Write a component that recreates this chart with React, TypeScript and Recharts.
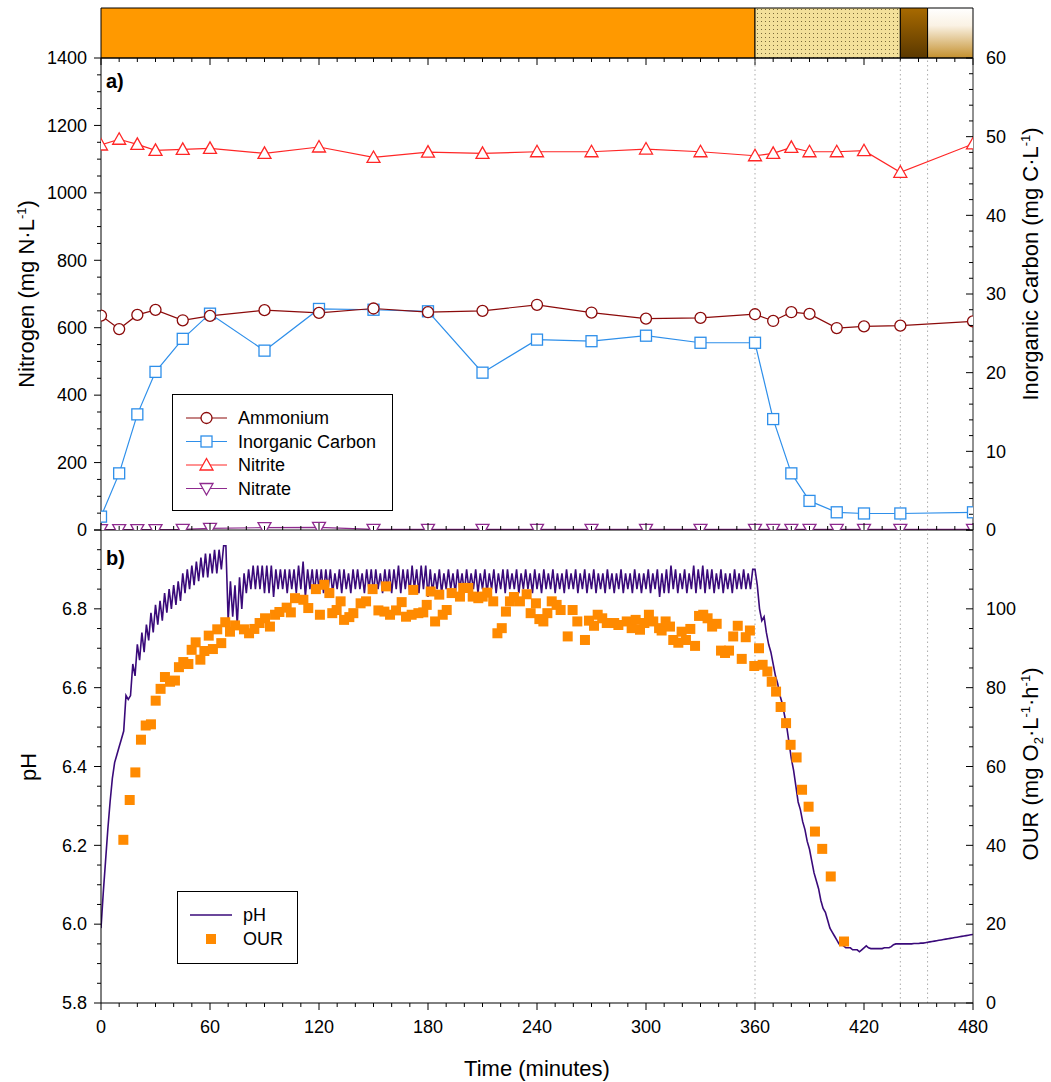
import { Bar, BarChart, ComposedChart, Line, ReferenceLine, Scatter, XAxis, YAxis } from "recharts";

const W = 1051;
const H = 1082;
const FONT = "'Liberation Sans', Arial, Helvetica, sans-serif";

const PLOT_LEFT = 101;
const PLOT_RIGHT = 973;
const STRIP_TOP = 8;
const A_TOP = 58;
const B_TOP = 530;
const B_BOTTOM = 1003;
const AXIS_W = 60;

// operating phases shown in the strip above panel a (minutes each)
const phaseNames = ["aerobic", "transition", "anoxic", "settling"];
const phaseLengths = [360, 80, 15, 25];
const phaseFills = ["#FF9900", "url(#dots)", "url(#darkBrown)", "url(#fadeTan)"];
const phaseMarks = [360, 440, 455];

// panel a: grab samples
const sampleTimes = [0, 10, 20, 30, 45, 60, 90, 120, 150, 180, 210, 240, 270, 300, 330, 360, 370, 380, 390, 405, 420, 440, 480];
const ammonium = [636, 596, 638, 653, 622, 635, 652, 644, 657, 646, 650, 668, 645, 627, 629, 640, 620, 646, 641, 599, 604, 606, 619];
const inorganicCarbon = [1.7, 7.2, 14.7, 20.1, 24.3, 27.5, 22.8, 28.1, 28.0, 27.8, 20.0, 24.2, 24.0, 24.7, 23.8, 23.8, 14.1, 7.2, 3.7, 2.25, 2.1, 2.1, 2.25];
const nitrite = [1142, 1159, 1144, 1126, 1129, 1132, 1117, 1136, 1105, 1121, 1117, 1122, 1122, 1130, 1122, 1110, 1117, 1135, 1122, 1122, 1125, 1061, 1145];
const nitrate = [1, 1, 1, 1, 2, 5, 7, 8, 2, 2, 2, 2, 2, 2, 2, 2, 2, 2, 2, 2, 2, 2, 2];

// panel b: online pH, logged every 1.25 min (one row = 30 min)
const PH_STEP = 1.25;
const phReadings = [
  5.99, 6.08, 6.16, 6.24, 6.31, 6.37, 6.41, 6.43, 6.45, 6.47, 6.49, 6.58, 6.57, 6.58, 6.66, 6.63, 6.71, 6.67, 6.74, 6.69, 6.76, 6.72, 6.79, 6.74,
  6.81, 6.76, 6.82, 6.77, 6.84, 6.79, 6.85, 6.8, 6.86, 6.81, 6.87, 6.82, 6.89, 6.84, 6.9, 6.85, 6.91, 6.86, 6.92, 6.87, 6.93, 6.88, 6.94, 6.88,
  6.94, 6.89, 6.95, 6.89, 6.95, 6.9, 6.96, 6.96, 6.77, 6.87, 6.78, 6.86, 6.76, 6.88, 6.8, 6.89, 6.84, 6.9, 6.85, 6.91, 6.85, 6.91, 6.85, 6.91,
  6.84, 6.91, 6.84, 6.91, 6.83, 6.9, 6.85, 6.9, 6.85, 6.9, 6.84, 6.9, 6.85, 6.9, 6.84, 6.91, 6.85, 6.92, 6.83, 6.9, 6.85, 6.9, 6.84, 6.9,
  6.85, 6.9, 6.84, 6.9, 6.85, 6.9, 6.84, 6.89, 6.85, 6.9, 6.84, 6.9, 6.85, 6.89, 6.84, 6.9, 6.85, 6.9, 6.85, 6.89, 6.84, 6.9, 6.85, 6.9,
  6.84, 6.9, 6.85, 6.89, 6.84, 6.9, 6.85, 6.9, 6.84, 6.9, 6.85, 6.91, 6.84, 6.9, 6.85, 6.9, 6.84, 6.91, 6.85, 6.9, 6.84, 6.91, 6.85, 6.91,
  6.83, 6.9, 6.84, 6.89, 6.85, 6.9, 6.84, 6.89, 6.85, 6.9, 6.85, 6.89, 6.84, 6.9, 6.85, 6.89, 6.84, 6.9, 6.85, 6.89, 6.85, 6.9, 6.84, 6.89,
  6.85, 6.9, 6.84, 6.89, 6.85, 6.9, 6.84, 6.89, 6.85, 6.9, 6.84, 6.9, 6.85, 6.89, 6.85, 6.9, 6.84, 6.89, 6.85, 6.9, 6.85, 6.89, 6.84, 6.9,
  6.85, 6.89, 6.84, 6.9, 6.85, 6.89, 6.85, 6.9, 6.84, 6.89, 6.85, 6.89, 6.84, 6.9, 6.85, 6.89, 6.85, 6.9, 6.84, 6.89, 6.85, 6.9, 6.84, 6.89,
  6.85, 6.9, 6.84, 6.89, 6.85, 6.89, 6.84, 6.9, 6.85, 6.89, 6.84, 6.89, 6.85, 6.9, 6.84, 6.89, 6.85, 6.89, 6.84, 6.9, 6.85, 6.89, 6.84, 6.89,
  6.85, 6.9, 6.84, 6.89, 6.85, 6.9, 6.83, 6.89, 6.84, 6.9, 6.84, 6.91, 6.85, 6.9, 6.84, 6.89, 6.85, 6.9, 6.84, 6.89, 6.85, 6.91, 6.84, 6.9,
  6.85, 6.91, 6.84, 6.9, 6.85, 6.9, 6.84, 6.89, 6.85, 6.9, 6.84, 6.89, 6.85, 6.89, 6.84, 6.9, 6.85, 6.89, 6.85, 6.9, 6.85, 6.89, 6.85, 6.9,
  6.9, 6.86, 6.8, 6.77, 6.78, 6.74, 6.71, 6.69, 6.66, 6.63, 6.61, 6.58, 6.56, 6.53, 6.5, 6.46, 6.42, 6.39, 6.35, 6.31, 6.29, 6.26, 6.24, 6.21,
  6.19, 6.16, 6.13, 6.11, 6.09, 6.06, 6.04, 6.03, 6.01, 5.99, 5.98, 5.97, 5.96, 5.95, 5.95, 5.945, 5.94, 5.94, 5.94, 5.935, 5.935, 5.935, 5.93, 5.935,
  5.94, 5.945, 5.94, 5.938, 5.938, 5.938, 5.938, 5.938, 5.938, 5.94, 5.94, 5.94, 5.943, 5.948, 5.95, 5.95, 5.95, 5.95, 5.95, 5.95, 5.95, 5.95, 5.951, 5.951,
  5.951, 5.952, 5.952, 5.953, 5.954, 5.955, 5.956, 5.957, 5.958, 5.959, 5.96, 5.961, 5.962, 5.963, 5.964, 5.965, 5.966, 5.967, 5.968, 5.969, 5.97, 5.971, 5.972, 5.973,
  5.974,
];

// panel b: oxygen uptake rate
const ourTimes = [
  12.3, 15.8, 18.9, 22, 24.6, 27.5, 30.1, 32.8, 35.2, 38, 40.7, 42.9, 45.3, 48.1, 49.9, 52.1, 54.7, 56.9, 59.3, 61.6,
  64, 66.2, 68.4, 71, 73.8, 78.7, 81.5, 84.4, 87.3, 90.3, 93, 95.8, 98.2, 102.2, 104.5, 106.8, 111.4, 114.1, 118.3, 120.5,
  122.9, 125.7, 127.3, 129.7, 131.9, 133.8, 136.7, 138.9, 142.9, 145.9, 149.5, 152.7, 156, 156.9, 159.1, 162.4, 165.5, 167.9, 171, 171.9,
  174.7, 177.4, 179.3, 181.5, 183.9, 186.2, 188.1, 190.3, 193, 197.6, 199.4, 202.2, 204.6, 207.7, 210.1, 212.6, 215.9, 218.2, 220.6, 222.9,
  225.1, 227.3, 230.6, 234.3, 236.5, 239.4, 241.3, 243.5, 245.7, 248.1, 250.8, 253, 256.9, 259.6, 262.2, 266.4, 268.6, 271.4, 273.4, 275.9,
  278.4, 282.5, 284.8, 289.4, 292.1, 294.3, 296.7, 299.1, 301.6, 304, 307.2, 308.6, 310.8, 313.2, 315, 317.8, 319.6, 322, 324.4, 327,
  329.2, 331.5, 333.9, 336.4, 338.9, 341.3, 343.5, 345.7, 348, 350.5, 352.7, 354.9, 357.2, 359.6, 362.2, 364.2, 366.8, 369.2, 371.6, 374.1,
  377.1, 379.6, 382.9, 385.9, 389.5, 393, 397, 401.7, 409,
];
const ourValues = [
  41.4, 51.5, 58.5, 66.8, 70.4, 70.7, 76.7, 79.7, 82.7, 81.5, 81.8, 85.2, 86.5, 86.0, 89.6, 91.5, 87.1, 89.3, 93.2, 89.8,
  94.8, 91.3, 96.6, 94.2, 95.8, 94.8, 93.8, 94.9, 96.4, 97.6, 95.5, 98.5, 99.2, 100.3, 99.1, 102.7, 102.3, 100.2, 105.0, 98.5,
  106.1, 104.0, 98.9, 99.7, 101.9, 97.2, 97.9, 98.9, 101.4, 101.9, 105.0, 99.6, 99.3, 105.7, 98.5, 99.6, 101.7, 98.0, 98.5, 104.8,
  98.9, 99.1, 101.0, 104.4, 96.8, 103.6, 98.5, 99.7, 104.0, 103.1, 105.3, 105.3, 103.1, 102.7, 103.1, 104.1, 101.9, 93.8, 95.1, 99.3,
  101.9, 103.0, 101.9, 103.7, 98.9, 101.4, 97.4, 96.8, 98.9, 101.9, 101.0, 99.7, 93.0, 99.7, 96.8, 92.1, 97.0, 95.7, 98.5, 97.6,
  96.4, 96.4, 95.9, 96.8, 95.1, 97.2, 94.7, 96.4, 98.5, 96.8, 95.1, 94.5, 96.8, 95.5, 92.1, 91.4, 94.2, 92.1, 94.9, 90.6,
  98.2, 98.5, 97.6, 95.5, 96.2, 89.4, 88.8, 89.4, 93.0, 95.7, 87.3, 92.8, 94.5, 85.5, 90.0, 85.8, 84.1, 81.5, 79.0, 75.1,
  71.0, 65.5, 62.3, 54.1, 49.8, 43.5, 39.1, 32.1, 15.6,
];

const COLORS = {
  ammonium: "#8B0A0A",
  carbon: "#2E8FEA",
  nitrite: "#FF2626",
  nitrate: "#8E2A8E",
  ph: "#3A0A7A",
  our: "#FF8A00",
};

const range = (from: number, to: number, step: number) => {
  const out: number[] = [];
  const n = Math.round((to - from) / step);
  for (let i = 0; i <= n; i++) out.push(Math.round((from + i * step) * 1000) / 1000);
  return out;
};

const timeTicks = range(0, 480, 10);
const nitrogenTicks = range(0, 1400, 50);
const carbonTicks = range(0, 60, 2);
const phTicks = range(5.8, 7.0, 0.05);
const ourTicks = range(0, 120, 5);

const phaseRow = [
  Object.fromEntries([["name", "phases"], ...phaseNames.map((n, i) => [n, phaseLengths[i]])]),
];
const panelARows = sampleTimes.map((t, i) => ({
  t,
  ammonium: ammonium[i],
  carbon: inorganicCarbon[i],
  nitrite: nitrite[i],
  nitrate: nitrate[i],
}));
const phRows = phReadings.map((ph, i) => ({ t: i * PH_STEP, ph }));
const ourRows = ourTimes.map((t, i) => ({ t, our: ourValues[i] }));

type TickCfg = {
  side: "left" | "right" | "bottom";
  dir: 1 | -1;
  major: number;
  labels?: boolean;
  digits?: number;
  skip?: number[];
};

function AxisTick(props: any) {
  const { x, y, payload, cfg } = props as { x: number; y: number; payload: { value: number }; cfg: TickCfg };
  const v = Number(payload.value);
  const r = v / cfg.major;
  const isMajor = Math.abs(r - Math.round(r)) < 1e-6;
  const len = isMajor ? 7 : 4;
  const show = cfg.labels && isMajor && !(cfg.skip || []).some((s) => Math.abs(s - v) < 1e-6);
  const label = cfg.digits ? v.toFixed(cfg.digits) : String(Math.round(v));
  if (cfg.side === "bottom") {
    return (
      <g>
        <line x1={x} x2={x} y1={y} y2={y + cfg.dir * len} stroke="#000" strokeWidth={1} />
        {show && (
          <text x={x} y={y + 30} textAnchor="middle" fontSize={18} fontFamily={FONT} fill="#000">
            {label}
          </text>
        )}
      </g>
    );
  }
  const left = cfg.side === "left";
  return (
    <g>
      <line x1={x} x2={x + cfg.dir * len} y1={y} y2={y} stroke="#000" strokeWidth={1} />
      {show && (
        <text
          x={left ? x - 14 : x + 13}
          y={y}
          dy="0.35em"
          textAnchor={left ? "end" : "start"}
          fontSize={18}
          fontFamily={FONT}
          fill="#000"
        >
          {label}
        </text>
      )}
    </g>
  );
}

const tickFor = (cfg: TickCfg) => (props: any) => <AxisTick {...props} cfg={cfg} />;

const circleDot = (color: string) => (p: any) => (
  <circle key={`c${p.index}`} cx={p.cx} cy={p.cy} r={5.5} fill="#fff" stroke={color} strokeWidth={1.3} />
);
const squareDot = (color: string) => (p: any) => (
  <rect key={`s${p.index}`} x={p.cx - 5.5} y={p.cy - 5.5} width={11} height={11} fill="#fff" stroke={color} strokeWidth={1.3} />
);
const triUpDot = (color: string) => (p: any) => (
  <path
    key={`u${p.index}`}
    d={`M${p.cx},${p.cy - 6.5} L${p.cx + 6.5},${p.cy + 5} L${p.cx - 6.5},${p.cy + 5} Z`}
    fill="#fff"
    stroke={color}
    strokeWidth={1.3}
  />
);
const triDownDot = (color: string) => (p: any) => (
  <path
    key={`d${p.index}`}
    d={`M${p.cx},${p.cy + 6.5} L${p.cx + 6.5},${p.cy - 5} L${p.cx - 6.5},${p.cy - 5} Z`}
    fill="#fff"
    stroke={color}
    strokeWidth={1.3}
  />
);

const layer: React.CSSProperties = { position: "absolute", left: 0, top: 0 };

const legendA = [
  { name: "Ammonium", color: COLORS.ammonium, dot: circleDot },
  { name: "Inorganic Carbon", color: COLORS.carbon, dot: squareDot },
  { name: "Nitrite", color: COLORS.nitrite, dot: triUpDot },
  { name: "Nitrate", color: COLORS.nitrate, dot: triDownDot },
];

export default function App() {
  return (
    <div style={{ position: "absolute", left: 0, top: 0, width: W, height: H, background: "#fff", fontFamily: FONT }}>
      <svg width={0} height={0} style={{ position: "absolute" }}>
        <defs>
          <pattern id="dots" width={4} height={4} patternUnits="userSpaceOnUse">
            <rect width={4} height={4} fill="#F3E09A" />
            <rect x={1} y={1} width={1} height={1} fill="#7a6a3a" />
          </pattern>
          <linearGradient id="darkBrown" x1="0" y1="0" x2="0" y2="1">
            <stop offset="0%" stopColor="#A86A00" />
            <stop offset="100%" stopColor="#5A3800" />
          </linearGradient>
          <linearGradient id="fadeTan" x1="0" y1="0" x2="0" y2="1">
            <stop offset="0%" stopColor="#FFFFFF" />
            <stop offset="35%" stopColor="#FAF2E4" />
            <stop offset="100%" stopColor="#C4902E" />
          </linearGradient>
        </defs>
      </svg>

      {/* phase strip */}
      <div style={layer}>
        <BarChart
          width={W}
          height={H}
          layout="vertical"
          data={phaseRow}
          barCategoryGap={0}
          margin={{ top: STRIP_TOP, bottom: H - A_TOP - 1, left: PLOT_LEFT, right: W - PLOT_RIGHT }}
        >
          <XAxis
            type="number"
            domain={[0, 480]}
            ticks={timeTicks}
            interval={0}
            height={1}
            tickSize={0}
            tickMargin={0}
            tickLine={false}
            axisLine={{ stroke: "#000" }}
            tick={tickFor({ side: "bottom", dir: 1, major: 60 })}
          />
          <YAxis type="category" dataKey="name" hide />
          {phaseNames.map((n, i) => (
            <Bar key={n} dataKey={n} stackId="phase" fill={phaseFills[i]} stroke="#000" strokeWidth={1} isAnimationActive={false} />
          ))}
        </BarChart>
      </div>

      {/* panel a */}
      <div style={layer}>
        <ComposedChart
          width={W}
          height={H}
          data={panelARows}
          margin={{ top: A_TOP, bottom: H - B_TOP - 1, left: PLOT_LEFT - AXIS_W, right: W - PLOT_RIGHT - AXIS_W }}
        >
          <XAxis
            type="number"
            dataKey="t"
            domain={[0, 480]}
            allowDataOverflow
            ticks={timeTicks}
            interval={0}
            height={1}
            tickSize={0}
            tickMargin={0}
            tickLine={false}
            axisLine={{ stroke: "#000" }}
            tick={tickFor({ side: "bottom", dir: -1, major: 60 })}
          />
          <YAxis
            yAxisId="n"
            width={AXIS_W}
            domain={[0, 1400]}
            allowDataOverflow
            ticks={nitrogenTicks}
            interval={0}
            tickSize={0}
            tickMargin={0}
            tickLine={false}
            axisLine={{ stroke: "#000" }}
            tick={tickFor({ side: "left", dir: -1, major: 200, labels: true })}
          />
          <YAxis
            yAxisId="c"
            orientation="right"
            width={AXIS_W}
            domain={[0, 60]}
            allowDataOverflow
            ticks={carbonTicks}
            interval={0}
            tickSize={0}
            tickMargin={0}
            tickLine={false}
            axisLine={{ stroke: "#222" }}
            tick={tickFor({ side: "right", dir: -1, major: 10, labels: true })}
          />
          {phaseMarks.map((m) => (
            <ReferenceLine key={m} x={m} yAxisId="n" stroke="#ababab" strokeDasharray="1.5 3" />
          ))}
          <Line yAxisId="n" dataKey="nitrate" stroke={COLORS.nitrate} strokeWidth={1.2} dot={triDownDot(COLORS.nitrate)} isAnimationActive={false} />
          <Line yAxisId="n" dataKey="nitrite" stroke={COLORS.nitrite} strokeWidth={1.2} dot={triUpDot(COLORS.nitrite)} isAnimationActive={false} />
          <Line yAxisId="c" dataKey="carbon" stroke={COLORS.carbon} strokeWidth={1.2} dot={squareDot(COLORS.carbon)} isAnimationActive={false} />
          <Line yAxisId="n" dataKey="ammonium" stroke={COLORS.ammonium} strokeWidth={1.2} dot={circleDot(COLORS.ammonium)} isAnimationActive={false} />
        </ComposedChart>
      </div>

      {/* panel b */}
      <div style={layer}>
        <ComposedChart
          width={W}
          height={H}
          margin={{ top: B_TOP, bottom: H - B_BOTTOM - 60, left: PLOT_LEFT - AXIS_W, right: W - PLOT_RIGHT - AXIS_W }}
        >
          <XAxis
            type="number"
            dataKey="t"
            domain={[0, 480]}
            allowDataOverflow
            ticks={timeTicks}
            interval={0}
            height={60}
            tickSize={0}
            tickMargin={0}
            tickLine={false}
            axisLine={{ stroke: "#000" }}
            tick={tickFor({ side: "bottom", dir: 1, major: 60, labels: true })}
          />
          <YAxis
            yAxisId="ph"
            width={AXIS_W}
            domain={[5.8, 7.0]}
            allowDataOverflow
            ticks={phTicks}
            interval={0}
            tickSize={0}
            tickMargin={0}
            tickLine={false}
            axisLine={{ stroke: "#000" }}
            tick={tickFor({ side: "left", dir: -1, major: 0.2, labels: true, digits: 1, skip: [7.0] })}
          />
          <YAxis
            yAxisId="our"
            orientation="right"
            width={AXIS_W}
            domain={[0, 120]}
            allowDataOverflow
            ticks={ourTicks}
            interval={0}
            tickSize={0}
            tickMargin={0}
            tickLine={false}
            axisLine={{ stroke: "#222" }}
            tick={tickFor({ side: "right", dir: -1, major: 20, labels: true, skip: [120] })}
          />
          {phaseMarks.map((m) => (
            <ReferenceLine key={m} x={m} yAxisId="ph" stroke="#ababab" strokeDasharray="1.5 3" />
          ))}
          <Line
            yAxisId="ph"
            data={phRows}
            dataKey="ph"
            type="linear"
            stroke={COLORS.ph}
            strokeWidth={1.6}
            dot={false}
            isAnimationActive={false}
          />
          <Scatter
            yAxisId="our"
            data={ourRows}
            dataKey="our"
            fill={COLORS.our}
            isAnimationActive={false}
            shape={(p: any) => <rect x={p.cx - 5} y={p.cy - 5} width={10} height={10} fill={COLORS.our} />}
          />
        </ComposedChart>
      </div>

      {/* titles, panel tags, legends */}
      <svg width={W} height={H} style={{ ...layer, pointerEvents: "none" }} fontFamily={FONT}>
        <text x={106} y={88} fontSize={20} fontWeight="bold">a)</text>
        <text x={106} y={565} fontSize={20} fontWeight="bold">b)</text>

        <text transform="translate(34,294) rotate(-90)" textAnchor="middle" fontSize={22}>
          Nitrogen (mg N·L<tspan dy={-8} fontSize={13}>-1</tspan>
          <tspan dy={8}>)</tspan>
        </text>
        <text transform="translate(36,767) rotate(-90)" textAnchor="middle" fontSize={22}>pH</text>
        <text transform="translate(1038,264) rotate(-90)" textAnchor="middle" fontSize={22}>
          Inorganic Carbon (mg C·L<tspan dy={-8} fontSize={13}>-1</tspan>
          <tspan dy={8}>)</tspan>
        </text>
        <text transform="translate(1038,764) rotate(-90)" textAnchor="middle" fontSize={22}>
          OUR (mg O<tspan dy={5} fontSize={13}>2</tspan>
          <tspan dy={-5}>·L</tspan>
          <tspan dy={-8} fontSize={13}>-1</tspan>
          <tspan dy={8}>·h</tspan>
          <tspan dy={-8} fontSize={13}>-1</tspan>
          <tspan dy={8}>)</tspan>
        </text>
        <text x={(PLOT_LEFT + PLOT_RIGHT) / 2} y={1076} textAnchor="middle" fontSize={22}>Time (minutes)</text>

        <rect x={172.5} y={394.5} width={220} height={116} fill="#fff" stroke="#000" strokeWidth={1} />
        {legendA.map((item, i) => {
          const y = 418 + i * 23.5;
          return (
            <g key={item.name}>
              <line x1={186} x2={227} y1={y} y2={y} stroke={item.color} strokeWidth={1.2} />
              {item.dot(item.color)({ cx: 206.5, cy: y, index: i })}
              <text x={238} y={y} dy="0.35em" fontSize={18}>{item.name}</text>
            </g>
          );
        })}

        <rect x={177.5} y={891.5} width={120} height={72} fill="#fff" stroke="#000" strokeWidth={1} />
        <line x1={190} x2={232} y1={915} y2={915} stroke={COLORS.ph} strokeWidth={1.6} />
        <text x={243} y={915} dy="0.35em" fontSize={18}>pH</text>
        <rect x={206} y={934} width={10} height={10} fill={COLORS.our} />
        <text x={243} y={939} dy="0.35em" fontSize={18}>OUR</text>
      </svg>
    </div>
  );
}
